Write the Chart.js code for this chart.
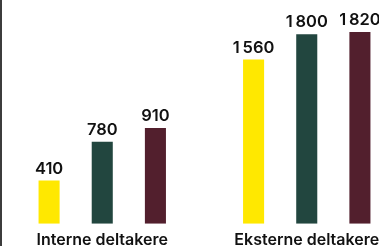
<!DOCTYPE html>
<html>
<head>
<meta charset="utf-8">
<script src="https://cdn.jsdelivr.net/npm/chart.js@4/dist/chart.umd.min.js"></script>
<style>
  html, body { margin: 0; padding: 0; background: #fff; overflow: hidden; }
  #wrap { position: relative; width: 379px; height: 246px; overflow: hidden; }
  #chart { position: absolute; left: 0; top: 0; }
  #edge { position: absolute; left: 0; top: 0; width: 2px; height: 246px; background: #3c3c3c; }
</style>
</head>
<body>
<div id="wrap">
  <canvas id="chart" width="409" height="257"></canvas>
  <div id="edge"></div>
</div>
<script>
// kategorier og serier
const categories = ['Interne deltakere', 'Eksterne deltakere'];
const seriesNames = ['Serie 1', 'Serie 2', 'Serie 3'];
const serie1 = [410, 1560];
const serie2 = [780, 1800];
const serie3 = [910, 1820];
const seriesColors = ['#FFE800', '#22463F', '#521F2D'];

// tall med smalt mellomrom som tusenskille
function formatValue(v) {
    return String(v).replace(/\B(?=(\d{3})+(?!\d))/g, '\u2009');
}

// skriver verdien over hver søyle
const valueLabels = {
    id: 'valueLabels',
    afterDatasetsDraw(chart) {
        const ctx = chart.ctx;
        ctx.save();
        ctx.font = '600 16.5px Inter, "Noto Sans", sans-serif';
        ctx.fillStyle = '#111';
        ctx.textAlign = 'center';
        ctx.textBaseline = 'alphabetic';
        chart.data.datasets.forEach((ds, i) => {
            chart.getDatasetMeta(i).data.forEach((bar, j) => {
                ctx.fillText(formatValue(ds.data[j]), bar.x, bar.y - 7);
            });
        });
        ctx.restore();
    }
};

const canvas = document.getElementById('chart');
new Chart(canvas, {
    type: 'bar',
    data: {
        labels: categories,
        datasets: [serie1, serie2, serie3].map((d, i) => ({
            label: seriesNames[i],
            data: d,
            backgroundColor: seriesColors[i],
            borderWidth: 0,
            categoryPercentage: 0.78,
            barPercentage: 0.396
        }))
    },
    options: {
        responsive: false,
        animation: false,
        layout: { padding: 0 },
        plugins: {
            legend: { display: false },
            tooltip: { enabled: false }
        },
        scales: {
            x: {
                grid: { display: false, drawTicks: false },
                border: { display: false },
                ticks: {
                    color: '#111',
                    padding: 7,
                    font: { family: 'Inter, "Noto Sans", sans-serif', size: 16, weight: 600 }
                }
            },
            y: {
                display: false,
                min: 0,
                max: 2125
            }
        }
    },
    plugins: [valueLabels]
});
</script>
</body>
</html>
